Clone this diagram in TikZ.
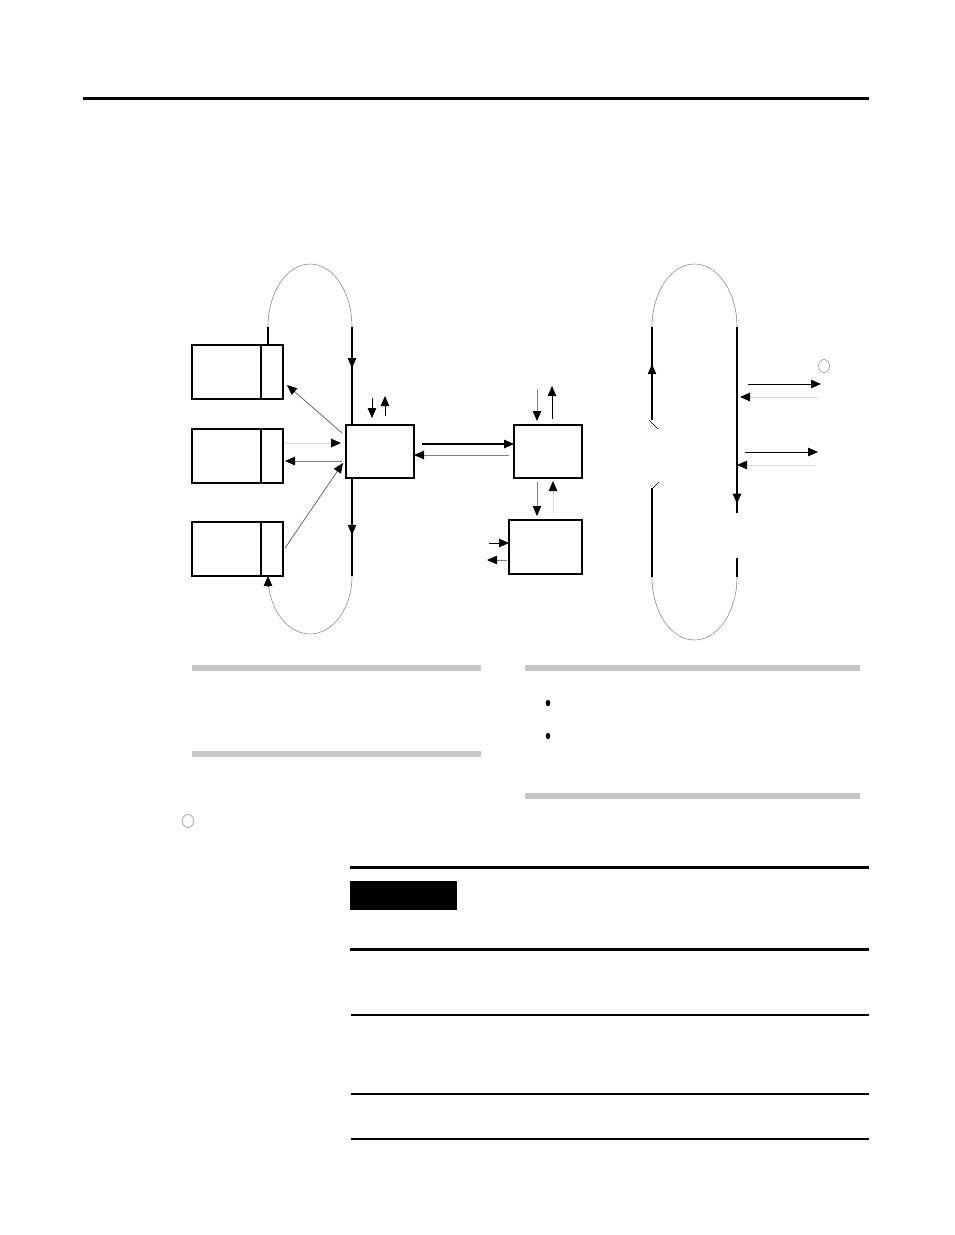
\documentclass[tikz,border=0pt]{standalone}
\usetikzlibrary{arrows.meta,decorations.markings}
\begin{document}
\begin{tikzpicture}[x=1pt,y=-1pt,
  box/.style={draw,line width=1.1pt,inner sep=0pt,outer sep=0pt,anchor=north west},
  loopline/.style={draw=gray!90,line width=0.6pt},
  trunk/.style={draw=black,line width=1.2pt},
  tip/.style={-{Triangle[length=10pt,width=8.5pt,color=black]}},
  thinarrow/.style={tip,line width=0.8pt},
  lightarrow/.style={tip,line width=1pt,draw=gray!30},
  midtip/.style={postaction={decorate},decoration={markings,
     mark=at position #1 with {\arrow{Triangle[length=10pt,width=8.5pt]}}}},
  bar/.style={fill=gray!45,draw=none},
  rule/.style={line width=1.4pt}]
\useasboundingbox (0,0) rectangle (954,1235);
% top rule
\draw[line width=3pt] (83,98) -- (869,98);

% ---- left part: boxes
\node[box,minimum width=91pt,minimum height=54pt] (b1) at (192,345) {};
\node[box,minimum width=91pt,minimum height=54pt] (b2) at (192,429) {};
\node[box,minimum width=91pt,minimum height=54pt] (b3) at (192,522) {};
\foreach \b in {b1,b2,b3}{\draw[line width=1.1pt] ([xshift=69pt]\b.north west) -- ([xshift=69pt]\b.south west);}
\node[box,minimum width=68pt,minimum height=53pt] (c) at (346,425) {};
\node[box,minimum width=68pt,minimum height=53pt] (m) at (514,425) {};
\node[box,minimum width=73pt,minimum height=54pt] (l) at (509,520) {};

% left loop
\coordinate (lt1) at (268,327);
\coordinate (lt2) at (352,327);
\draw[loopline] (lt1) arc[start angle=180,end angle=360,x radius=42,y radius=63];
\draw[trunk] ([xshift=-15pt]b1.north east) -- (lt1);
\draw[trunk,midtip=0.42] (lt2) -- ([xshift=6pt]c.north west);
\coordinate (lb1) at (268,586);
\coordinate (lb2) at (352,576);
\draw[trunk,midtip=0.58] ([xshift=6pt]c.south west) -- (lb2);
\draw[loopline] (lb2) arc[start angle=0,end angle=180,x radius=42,y radius=58] -- (268,586);
\draw[line width=1pt,tip] (lb1) -- ([xshift=-15pt]b3.south east);

% arrows around c
\coordinate (d1s) at (342,433); \coordinate (d1e) at (287,385);
\draw[thinarrow,draw=gray!80!black] (d1s) -- (d1e);
\draw[lightarrow] (284,443) -- (341,443);
\draw[tip,line width=1pt,draw=gray] (342,461) -- (285,461);
\coordinate (d3s) at (285,548); \coordinate (d3e) at (343,463);
\draw[thinarrow,draw=gray!80!black] (d3s) -- (d3e);
\draw[thinarrow] (372,398) -- (372,418);
\draw[thinarrow] (385,416) -- (385,396);

% c <-> m
\draw[tip,line width=1.1pt] (422,444) -- (m.west |- 0,444);
\draw[tip,line width=1pt,draw=gray] (509,455) -- (c.east |- 0,455);

% m arrows
\draw[thinarrow,draw=gray] (537,389) -- (537,421);
\draw[thinarrow] (552,419) -- (552,386);
\draw[thinarrow,draw=gray] (537,482) -- (537,516);
\draw[lightarrow] (553,513) -- (553,481);
% lower box
\draw[thinarrow] (489,543) -- (l.west |- 0,543);
\draw[thinarrow,draw=gray] (507,560) -- (487,560);

% ---- right loop
\coordinate (rt1) at (652,327);
\coordinate (rt2) at (737,327);
\draw[loopline] (rt1) arc[start angle=180,end angle=360,x radius=42.5,y radius=63];
\draw[trunk,midtip=0.6] (652,420) -- (rt1);
\draw[line width=0.6pt] (649,420) -- (658,429);
\draw[line width=0.6pt] (651,490) -- (659,482);
\coordinate (rb1) at (652,577);
\coordinate (rb2) at (737,577);
\draw[trunk] (652,488) -- (rb1);
\draw[trunk,midtip=0.95] (rt2) -- (737,513);
\draw[trunk] (737,558) -- (rb2);
\draw[loopline] (rb2) arc[start angle=0,end angle=180,x radius=42.5,y radius=63];

\draw[thinarrow] (748,384) -- (821,384);
\draw[lightarrow] (818,397) -- (740,397);
\draw[thinarrow] (745,452) -- (818,452);
\draw[lightarrow] (816,465) -- (737,465);
\draw[line width=0.5pt,draw=gray] (824,366) ellipse[x radius=5.5,y radius=6.5];

% ---- lower text frames
\fill[bar] (192,665) rectangle (481,671);
\fill[bar] (192,751) rectangle (481,757);
\fill[bar] (525,665) rectangle (860,671);
\fill[bar] (525,793) rectangle (860,799);
\fill (548,703) ellipse[x radius=2.3,y radius=3.3];
\fill (548,736) ellipse[x radius=2.3,y radius=3.3];
\draw[line width=0.5pt,draw=gray] (188,821) ellipse[x radius=5.5,y radius=6.5];

% ---- table
\draw[line width=3pt] (350,867) -- (869,867);
\fill (350,881) rectangle (457,910);
\draw[line width=3pt] (350,949) -- (869,949);
\draw[rule] (351,1015) -- (869,1015);
\draw[rule] (351,1094) -- (869,1094);
\draw[rule] (351,1139) -- (869,1139);
\end{tikzpicture}
\end{document}
